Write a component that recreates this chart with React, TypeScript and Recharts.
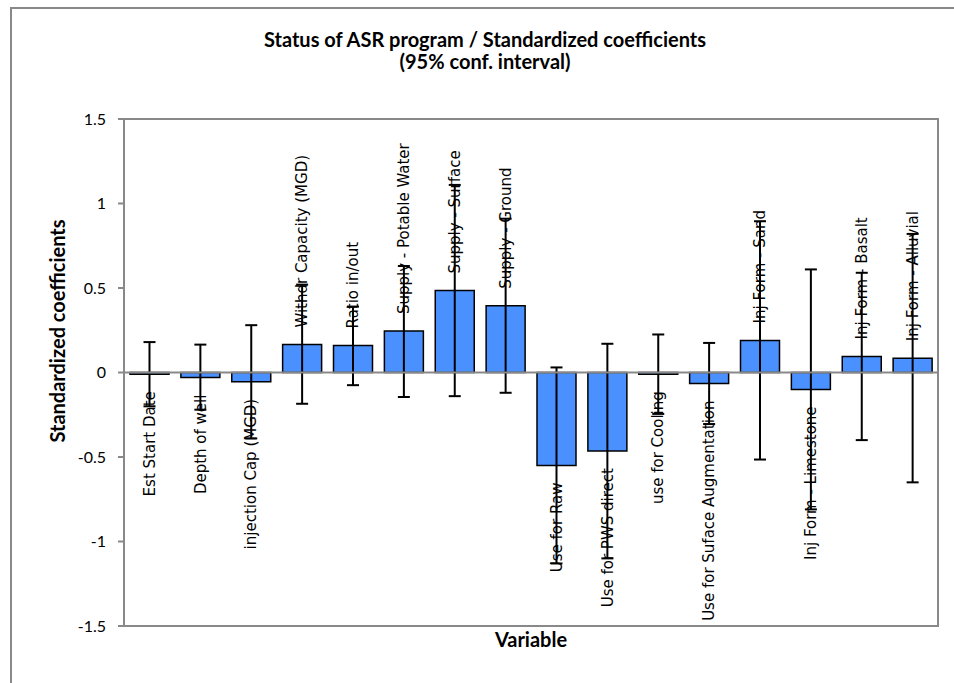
import { Bar, BarChart, ErrorBar, LabelList, ReferenceArea, ReferenceLine, XAxis, YAxis } from "recharts";

const variables = [
  "Est Start Date",
  "Depth of well",
  "injection Cap (MGD)",
  "Withdr Capacity (MGD)",
  "Ratio in/out",
  "Supply - Potable Water",
  "Supply - Surface",
  "Supply - Ground",
  "Use for Raw",
  "Use for PWS direct",
  "use for Cooling",
  "Use for Suface Augmentation",
  "Inj Form - Sand",
  "Inj Form - Limestone",
  "Inj Form - Basalt",
  "Inj Form - Alluvial",
];

const coefficients = [
  -0.01, -0.03, -0.055, 0.165, 0.16, 0.245, 0.485, 0.395,
  -0.55, -0.465, -0.01, -0.065, 0.19, -0.1, 0.095, 0.085,
];

const lowerBounds = [
  -0.2, -0.22, -0.39, -0.185, -0.075, -0.145, -0.14, -0.12,
  -1.13, -1.1, -0.245, -0.305, -0.515, -0.81, -0.4, -0.65,
];

const upperBounds = [
  0.18, 0.165, 0.28, 0.52, 0.39, 0.63, 1.11, 0.91,
  0.03, 0.17, 0.225, 0.175, 0.895, 0.61, 0.59, 0.82,
];

const yTicks = [-1.5, -1, -0.5, 0, 0.5, 1, 1.5];

const data = variables.map((name, i) => ({
  name,
  value: coefficients[i],
  ci: [coefficients[i] - lowerBounds[i], upperBounds[i] - coefficients[i]],
}));

const gray = "#898989";

// category name written vertically just outside the end of each bar
function VariableLabel(props: any) {
  const vb = props.viewBox ?? props;
  const x = Number(vb.x);
  const y = Number(vb.y);
  const w = Number(vb.width);
  const h = Number(vb.height);
  const cx = x + w / 2;
  const top = Math.min(y, y + h);
  const bottom = Math.max(y, y + h);
  const i = variables.indexOf(props.value);
  const positive = coefficients[i] >= 0;
  const ay = positive ? top - 17 : bottom + 17;
  return (
    <text
      x={cx}
      y={ay}
      dy="0.35em"
      transform={`rotate(-90 ${cx} ${ay})`}
      textAnchor={positive ? "start" : "end"}
      fontFamily="DejaVu Sans"
      fontSize={15}
      fill="#000"
    >
      {props.value}
    </text>
  );
}

function XTitle(props: any) {
  const vb = props.viewBox;
  return (
    <text x={vb.x + vb.width / 2} y={vb.y + 21} textAnchor="middle" fontFamily="Lato" fontWeight="bold" fontSize={20} fill="#000">
      Variable
    </text>
  );
}

function YTitle() {
  return (
    <text x={58} y={331} dy="0.35em" transform="rotate(-90 58 331)" textAnchor="middle" fontFamily="Lato" fontWeight="bold" fontSize={20} fill="#000">
      Standardized coefficients
    </text>
  );
}

export default function App() {
  return (
    <div style={{ position: "absolute", left: 0, top: 0, width: 954, height: 683, overflow: "hidden", background: "#fff" }}>
      <div
        style={{
          position: "absolute",
          left: 10,
          top: 7,
          width: 1000,
          height: 1000,
          border: `2px solid ${gray}`,
          boxSizing: "border-box",
        }}
      />
      <div
        style={{
          position: "absolute",
          left: 0,
          top: 28,
          width: 970,
          textAlign: "center",
          fontFamily: "Lato",
          fontWeight: "bold",
          fontSize: 20,
          lineHeight: "22px",
          color: "#000",
        }}
      >
        <div>Status of ASR program / Standardized coefficients</div>
        <div>(95% conf. interval)</div>
      </div>
      <div style={{ position: "absolute", left: 0, top: 0 }}>
        <BarChart width={954} height={683} data={data} margin={{ top: 119, right: 16, bottom: 27, left: 0 }} barSize={39}>
          <XAxis dataKey="name" tick={false} tickLine={false} axisLine={false} height={30} label={XTitle} />
          <YAxis
            domain={[-1.5, 1.5]}
            ticks={yTicks}
            allowDataOverflow
            width={124}
            tickSize={6}
            tickMargin={12}
            tick={{ fontFamily: "Lato", fontSize: 16, fill: "#000" }}
            axisLine={{ stroke: gray, strokeWidth: 2 }}
            tickLine={{ stroke: gray, strokeWidth: 2 }}
            label={YTitle}
          />
          <ReferenceArea y1={-1.5} y2={1.5} fill="none" stroke={gray} strokeWidth={2} ifOverflow="visible" />
          <Bar dataKey="value" fill="#4a90ff" stroke="#000" strokeWidth={1.5} isAnimationActive={false}>
            <ErrorBar dataKey="ci" direction="y" width={6} stroke="#000" strokeWidth={2} />
            <LabelList dataKey="name" content={VariableLabel} />
          </Bar>
          <ReferenceLine y={0} stroke={gray} strokeWidth={2} />
        </BarChart>
      </div>
    </div>
  );
}
